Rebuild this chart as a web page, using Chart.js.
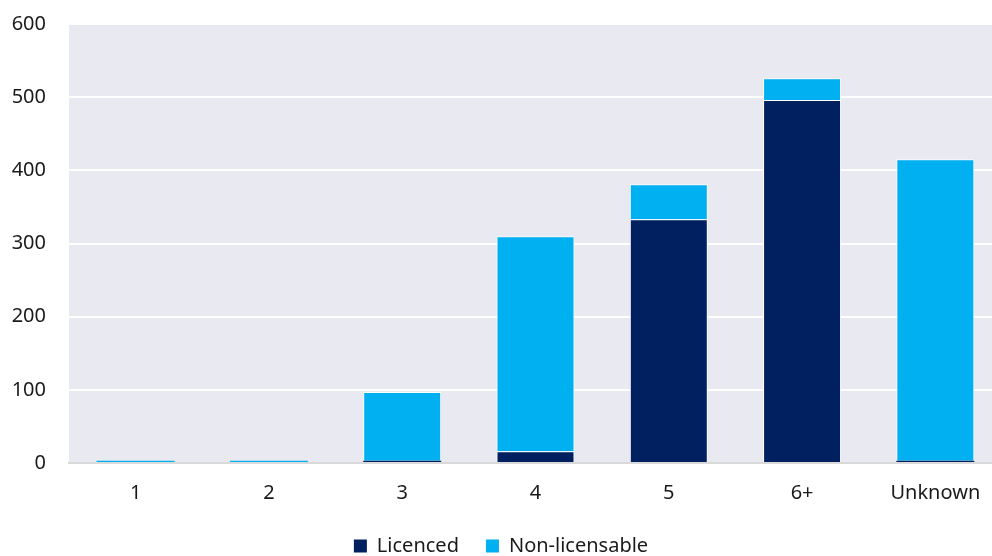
<!DOCTYPE html>
<html lang="en">
    <head>
        <meta charset="UTF-8" />
        <title>Licenced vs non-licensable</title>
        <script src="https://cdn.jsdelivr.net/npm/chart.js"></script>
        <style>
            html, body { margin: 0; padding: 0; background: #ffffff; overflow: hidden; }
            /* plot runs slightly past the right edge of the picture, so the canvas is a bit larger than the window */
            #wrap { width: 1004px; height: 566px; }
        </style>
    </head>
    <body>
        <div id="wrap"><canvas id="myChart"></canvas></div>

        <script>
            const categories = ["1", "2", "3", "4", "5", "6+", "Unknown"];
            const licenced = [0, 0, 3, 16, 333, 496, 3];
            const nonLicensable = [3, 3, 94, 294, 48, 30, 412];
            const yTicks = [0, 100, 200, 300, 400, 500, 600];

            const fontFamily = "'Noto Sans', sans-serif";

            // thin slivers would vanish under the white outline, so drop it there
            const outline = (c) => (c.raw < 6 ? 0 : 1);

            // paint the plot area background before the grid
            const plotBackground = {
                id: "plotBackground",
                beforeDraw: function (chart) {
                    const { ctx, chartArea } = chart;
                    ctx.save();
                    ctx.fillStyle = "#e9e9f2";
                    ctx.fillRect(chartArea.left, chartArea.top, chartArea.right - chartArea.left, chartArea.bottom - chartArea.top);
                    ctx.restore();
                },
            };

            const ctx = document.getElementById("myChart").getContext("2d");
            const myChart = new Chart(ctx, {
                type: "bar",
                data: {
                    labels: categories,
                    datasets: [
                        {
                            label: "Licenced",
                            data: licenced,
                            backgroundColor: "#002060",
                            borderColor: "#ffffff",
                            borderWidth: outline,
                        },
                        {
                            label: "Non-licensable",
                            data: nonLicensable,
                            backgroundColor: "#00b0f0",
                            borderColor: "#ffffff",
                            borderWidth: outline,
                        },
                    ],
                },
                options: {
                    responsive: true,
                    maintainAspectRatio: false,
                    animation: false,
                    layout: {
                        padding: { top: 24, right: 2, left: 0, bottom: 0 },
                    },
                    datasets: {
                        bar: {
                            categoryPercentage: 0.585,
                            barPercentage: 1.0,
                        },
                    },
                    scales: {
                        x: {
                            stacked: true,
                            afterFit: function (axis) {
                                axis.height -= 14; // let the plot sit closer to the legend
                            },
                            grid: { display: false, drawTicks: false },
                            border: { display: true, color: "#d9d9d9", width: 2 },
                            ticks: {
                                color: "#1a1a1a",
                                font: { family: fontFamily, size: 20 },
                                padding: 18,
                            },
                        },
                        y: {
                            stacked: true,
                            min: 0,
                            max: 600,
                            afterBuildTicks: function (axis) {
                                axis.ticks = yTicks.map((v) => ({ value: v }));
                            },
                            afterFit: function (axis) {
                                axis.width = 69;
                            },
                            grid: {
                                color: "#ffffff",
                                lineWidth: 2,
                                drawTicks: true,
                                tickLength: 19,
                                tickColor: "rgba(0,0,0,0)",
                            },
                            border: { display: false },
                            ticks: {
                                color: "#1a1a1a",
                                font: { family: fontFamily, size: 20 },
                                padding: 4,
                            },
                        },
                    },
                    plugins: {
                        legend: {
                            position: "bottom",
                            labels: {
                                color: "#1a1a1a",
                                font: { family: fontFamily, size: 20 },
                                boxWidth: 13,
                                boxHeight: 13,
                                padding: 27,
                            },
                        },
                        tooltip: { enabled: false },
                    },
                },
                plugins: [plotBackground],
            });
        </script>
    </body>
</html>
